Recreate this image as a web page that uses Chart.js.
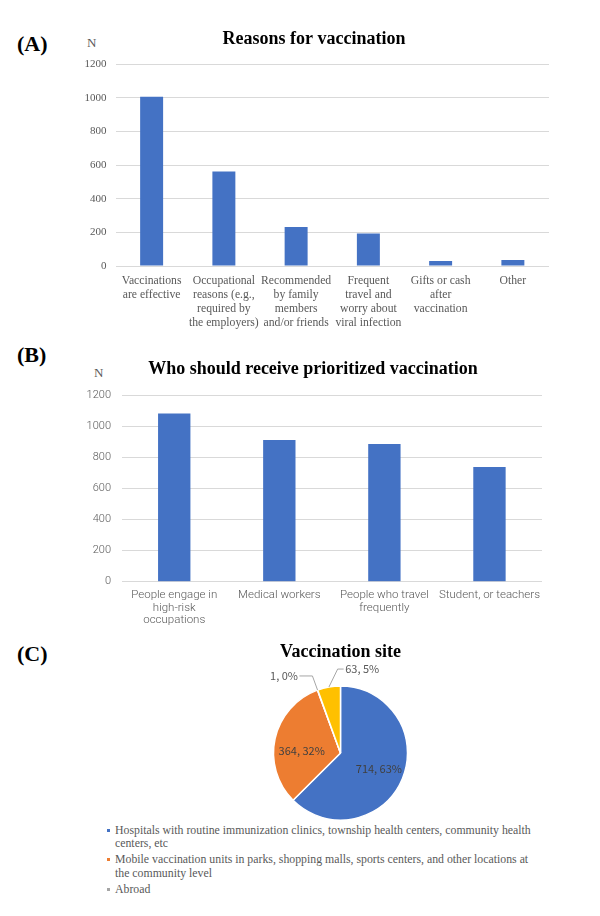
<!DOCTYPE html>
<html>
<head>
<meta charset="utf-8">
<script src="https://cdn.jsdelivr.net/npm/chart.js@4.4.1/dist/chart.umd.min.js"></script>
<style>
  html,body{margin:0;padding:0;background:#fff;}
  body{width:600px;height:916px;position:relative;overflow:hidden;}
  canvas{position:absolute;left:0;}
  .panel{position:absolute;font:bold 22px "Liberation Serif",serif;color:#000;line-height:22px;}
  .n{position:absolute;font:13px "Liberation Serif",serif;color:#595959;line-height:13px;}
  #legend{position:absolute;left:105px;top:824px;width:436px;font:11.8px "Liberation Serif",serif;color:#595959;}
  .li{position:relative;padding-left:10px;line-height:13.3px;margin-bottom:2.75px;}
  .li .m{position:absolute;left:2px;top:5px;width:3px;height:3px;}
</style>
</head>
<body>
<div class="panel" style="left:17px;top:33px;">(A)</div>
<div class="panel" style="left:17px;top:344px;">(B)</div>
<div class="panel" style="left:17px;top:643px;">(C)</div>
<div class="n" style="left:87px;top:36px;">N</div>
<div class="n" style="left:94px;top:366px;">N</div>
<canvas id="cA" width="600" height="330" style="top:0px;"></canvas>
<canvas id="cB" width="600" height="300" style="top:330px;"></canvas>
<canvas id="cC" width="600" height="193" style="top:630px;"></canvas>
<div id="legend"></div>
<script>
// ---------- data ----------
const reasonCategories = [
  ["Vaccinations","are effective"],
  ["Occupational","reasons (e.g.,","required by","the employers)"],
  ["Recommended","by family","members","and/or friends"],
  ["Frequent","travel and","worry about","viral infection"],
  ["Gifts or cash","after","vaccination"],
  ["Other"]
];
const reasonValues = [1005, 561, 231, 193, 30, 36];

const priorityCategories = [
  ["People engage in","high-risk","occupations"],
  "Medical workers",
  ["People who travel","frequently"],
  "Student, or teachers"
];
const priorityValues = [1085, 915, 888, 740];

const siteLabels = [
  "Hospitals with routine immunization clinics, township health centers, community health centers, etc",
  "Mobile vaccination units in parks, shopping malls, sports centers, and other locations at the community level",
  "Abroad",
  ""
];
const siteValues = [714, 364, 1, 63];
const sitePercents = [63, 32, 0, 5];

const yMin = 0, yMax = 1200, yStep = 200;

// ---------- styles ----------
const BLUE = '#4472C4';
const siteColors = ['#4472C4', '#ED7D31', '#A5A5A5', '#FFC000'];
const GRID = '#D9D9D9';
const GRAY = '#595959';
const SERIF = '"Liberation Serif", "Times New Roman", serif';
const SANS = 'Roboto, "Noto Sans", sans-serif';
const plainTick = v => String(v);

Chart.defaults.devicePixelRatio = 1;

// ---------- chart A ----------
new Chart(document.getElementById('cA'), {
  type: 'bar',
  data: {
    labels: reasonCategories,
    datasets: [{ data: reasonValues, backgroundColor: BLUE, barPercentage: 0.318, categoryPercentage: 1 }]
  },
  options: {
    responsive: false, animation: false,
    layout: { padding: { left: 79, right: 51, top: 0, bottom: 0 } },
    plugins: {
      legend: { display: false }, tooltip: { enabled: false },
      title: { display: true, text: 'Reasons for vaccination', color: '#000',
        font: { family: SERIF, size: 18, weight: 'bold', lineHeight: 1.2 },
        padding: { top: 29, bottom: 13.4 } }
    },
    scales: {
      x: {
        grid: { display: false, drawTicks: false }, border: { display: false },
        ticks: { autoSkip: false, maxRotation: 0, minRotation: 0, padding: 8, color: GRAY,
          font: { family: SERIF, size: 11.7, lineHeight: 1.2 } },
        afterFit(s) { s.height = 64; }
      },
      y: {
        min: yMin, max: yMax,
        grid: { color: GRID, drawTicks: false }, border: { display: false },
        ticks: { stepSize: yStep, padding: 9, color: GRAY, font: { family: SERIF, size: 11 }, callback: plainTick },
        afterFit(s) { s.width = 36.5; }
      }
    }
  }
});

// ---------- chart B ----------
new Chart(document.getElementById('cB'), {
  type: 'bar',
  data: {
    labels: priorityCategories,
    datasets: [{ data: priorityValues, backgroundColor: BLUE, barPercentage: 0.308, categoryPercentage: 1 }]
  },
  options: {
    responsive: false, animation: false,
    layout: { padding: { left: 84, right: 58, top: 0, bottom: 0 } },
    plugins: {
      legend: { display: false }, tooltip: { enabled: false },
      title: { display: true, text: 'Who should receive prioritized vaccination', color: '#000',
        font: { family: SERIF, size: 18, weight: 'bold', lineHeight: 1.2 },
        padding: { top: 29, bottom: 15.1 } }
    },
    scales: {
      x: {
        grid: { display: false, drawTicks: false }, border: { display: false },
        ticks: { autoSkip: false, maxRotation: 0, minRotation: 0, padding: 7, color: GRAY,
          font: { family: SANS, size: 11.5, weight: '300', lineHeight: 1.1 } },
        afterFit(s) { s.height = 48.3; }
      },
      y: {
        min: yMin, max: yMax,
        grid: { color: GRID, drawTicks: false }, border: { display: false },
        ticks: { stepSize: yStep, padding: 10.7, color: GRAY, font: { family: SANS, size: 11, weight: '300' }, callback: plainTick },
        afterFit(s) { s.width = 37.7; }
      }
    }
  }
});

// ---------- chart C ----------
const siteLabelPlugin = {
  id: 'siteLabels',
  afterDatasetsDraw(chart, args, opts) {
    const ctx = chart.ctx;
    const meta = chart.getDatasetMeta(0);
    ctx.save();
    ctx.font = '11px "Noto Sans CJK JP", "Noto Sans", sans-serif';
    ctx.textBaseline = 'middle';
    meta.data.forEach((arc, i) => {
      const p = arc.getProps(['x', 'y', 'startAngle', 'endAngle', 'outerRadius'], true);
      const mid = (p.startAngle + p.endAngle) / 2;
      const txt = siteValues[i] + ', ' + sitePercents[i] + '%';
      const out = opts.outside[i];
      if (!out) {
        const r = p.outerRadius * opts.insideRatio[i];
        const a = mid + (opts.insideTurn[i] || 0) * Math.PI / 180;
        ctx.fillStyle = opts.insideColor;
        ctx.textAlign = 'center';
        ctx.fillText(txt, p.x + Math.cos(a) * r, p.y + Math.sin(a) * r);
      } else {
        const a = mid + out.turn * Math.PI / 180;
        const x0 = p.x + Math.cos(mid) * p.outerRadius, y0 = p.y + Math.sin(mid) * p.outerRadius;
        const r1 = p.outerRadius + out.reach;
        const x1 = p.x + Math.cos(a) * r1, y1 = p.y + Math.sin(a) * r1;
        const dir = out.side === 'left' ? -1 : 1;
        const x2 = x1 + dir * out.seg;
        ctx.strokeStyle = opts.lineColor; ctx.lineWidth = 1;
        ctx.beginPath(); ctx.moveTo(x0, y0); ctx.lineTo(x1, y1); ctx.lineTo(x2, y1); ctx.stroke();
        ctx.fillStyle = opts.outsideColor;
        ctx.textAlign = dir < 0 ? 'right' : 'left';
        ctx.fillText(txt, x2 + dir * 1.5, y1);
      }
    });
    ctx.restore();
  }
};

new Chart(document.getElementById('cC'), {
  type: 'pie',
  data: {
    labels: siteLabels,
    datasets: [{ data: siteValues, backgroundColor: siteColors, borderColor: '#fff', borderWidth: 1.5 }]
  },
  options: {
    responsive: false, animation: false,
    layout: { padding: { left: 81, right: 0, top: 0, bottom: 2.25 } },
    plugins: {
      legend: { display: false }, tooltip: { enabled: false },
      title: { display: true, text: 'Vaccination site', color: '#000',
        font: { family: SERIF, size: 18, weight: 'bold', lineHeight: 1.2 },
        padding: { top: 11.2, bottom: 22.45 } },
      siteLabels: {
        insideRatio: [0.62, 0.58, 0, 0],
        insideTurn: [0, -9, 0, 0],
        insideColor: '#404040', outsideColor: GRAY, lineColor: '#A6A6A6',
        outside: [null, null, { side: 'left', turn: 0, reach: 15, seg: 13 }, { side: 'right', turn: 8, reach: 17, seg: 6 }]
      }
    }
  },
  plugins: [siteLabelPlugin]
});

// ---------- HTML legend for pie ----------
const lg = document.getElementById('legend');
siteLabels.forEach((t, i) => {
  if (!t) return;
  const d = document.createElement('div');
  d.className = 'li';
  const m = document.createElement('span');
  m.className = 'm';
  m.style.background = siteColors[i];
  d.appendChild(m);
  d.appendChild(document.createTextNode(t));
  lg.appendChild(d);
});
</script>
</body>
</html>
